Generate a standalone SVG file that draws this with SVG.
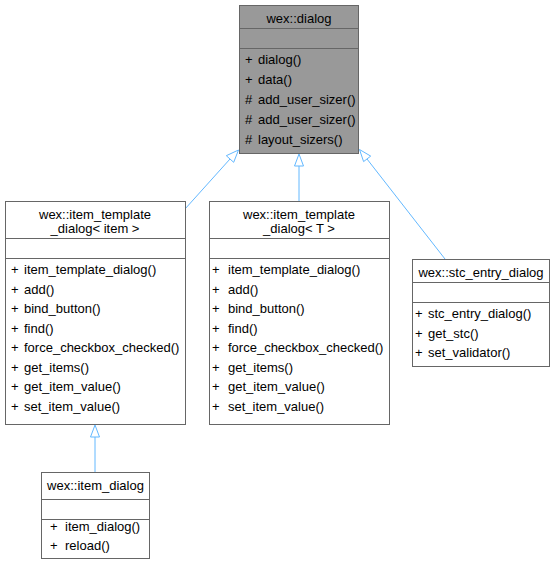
<svg xmlns="http://www.w3.org/2000/svg" width="556" height="565" viewBox="0 0 556 565">
<style>
text{font-family:"Liberation Sans",Arial,sans-serif;font-size:13px;fill:#000}
.c{text-anchor:middle}
.box{fill:#fff;stroke:#666;stroke-width:1}
.base{fill:#999;stroke:#666;stroke-width:1}
.sep{stroke:#666;stroke-width:1}
.edge{fill:none;stroke:#63b8ff;stroke-width:1}
.head{fill:#fff;stroke:#63b8ff;stroke-width:1}
</style>
<rect width="556" height="565" fill="#fff"/>
<g id="connectors">
<line class="edge" x1="185" y1="209" x2="230" y2="159"/>
<polygon class="head" points="238.5,150 233.7,162.3 226.3,155.7"/>
<line class="edge" x1="299" y1="201" x2="299" y2="166"/>
<polygon class="head" points="299,154 303.5,166 294.5,166"/>
<line class="edge" x1="445" y1="259" x2="367" y2="159"/>
<polygon class="head" points="359.5,149.5 370.7,156.1 363.6,161.6"/>
<line class="edge" x1="95" y1="472" x2="95" y2="437"/>
<polygon class="head" points="95,425 99.5,437 90.5,437"/>
</g>
<g id="node-dialog">
<rect class="base" x="239.5" y="5.5" width="119" height="148"/>
<line class="sep" x1="239.5" y1="28.5" x2="358.5" y2="28.5"/>
<line class="sep" x1="239.5" y1="48.5" x2="358.5" y2="48.5"/>
<text class="c" x="299" y="23">wex::dialog</text>
<text x="245" y="64">+</text><text x="258" y="64">dialog()</text>
<text x="245" y="84">+</text><text x="258" y="84">data()</text>
<text x="245" y="104">#</text><text x="258" y="104">add_user_sizer()</text>
<text x="245" y="124">#</text><text x="258" y="124">add_user_sizer()</text>
<text x="245" y="144">#</text><text x="258" y="144">layout_sizers()</text>
</g>
<g id="node-item-template-dialog-item">
<rect class="box" x="5.5" y="201.5" width="180" height="223"/>
<line class="sep" x1="5.5" y1="238.5" x2="185.5" y2="238.5"/>
<line class="sep" x1="5.5" y1="258.5" x2="185.5" y2="258.5"/>
<text class="c" x="95" y="219">wex::item_template</text>
<text class="c" x="95" y="233">_dialog&lt; item &gt;</text>
<text x="11" y="274">+</text><text x="24" y="274">item_template_dialog()</text>
<text x="11" y="293.5">+</text><text x="24" y="293.5">add()</text>
<text x="11" y="313">+</text><text x="24" y="313">bind_button()</text>
<text x="11" y="332.5">+</text><text x="24" y="332.5">find()</text>
<text x="11" y="352">+</text><text x="24" y="352">force_checkbox_checked()</text>
<text x="11" y="371.5">+</text><text x="24" y="371.5">get_items()</text>
<text x="11" y="391">+</text><text x="24" y="391">get_item_value()</text>
<text x="11" y="410.5">+</text><text x="24" y="410.5">set_item_value()</text>
</g>
<g id="node-item-template-dialog-T">
<rect class="box" x="209.5" y="201.5" width="180" height="223"/>
<line class="sep" x1="209.5" y1="238.5" x2="389.5" y2="238.5"/>
<line class="sep" x1="209.5" y1="258.5" x2="389.5" y2="258.5"/>
<text class="c" x="299" y="219">wex::item_template</text>
<text class="c" x="299" y="233">_dialog&lt; T &gt;</text>
<text x="212" y="274">+</text><text x="228" y="274">item_template_dialog()</text>
<text x="212" y="293.5">+</text><text x="228" y="293.5">add()</text>
<text x="212" y="313">+</text><text x="228" y="313">bind_button()</text>
<text x="212" y="332.5">+</text><text x="228" y="332.5">find()</text>
<text x="212" y="352">+</text><text x="228" y="352">force_checkbox_checked()</text>
<text x="212" y="371.5">+</text><text x="228" y="371.5">get_items()</text>
<text x="212" y="391">+</text><text x="228" y="391">get_item_value()</text>
<text x="212" y="410.5">+</text><text x="228" y="410.5">set_item_value()</text>
</g>
<g id="node-stc-entry-dialog">
<rect class="box" x="412.5" y="259.5" width="137" height="107"/>
<line class="sep" x1="412.5" y1="282.5" x2="549.5" y2="282.5"/>
<line class="sep" x1="412.5" y1="302.5" x2="549.5" y2="302.5"/>
<text class="c" x="481" y="277">wex::stc_entry_dialog</text>
<text x="415" y="318">+</text><text x="428" y="318">stc_entry_dialog()</text>
<text x="415" y="337.5">+</text><text x="428" y="337.5">get_stc()</text>
<text x="415" y="357">+</text><text x="428" y="357">set_validator()</text>
</g>
<g id="node-item-dialog">
<rect class="box" x="41.5" y="472.5" width="108" height="86"/>
<line class="sep" x1="41.5" y1="499.5" x2="149.5" y2="499.5"/>
<line class="sep" x1="41.5" y1="519.5" x2="149.5" y2="519.5"/>
<text class="c" x="95.5" y="490">wex::item_dialog</text>
<text x="50" y="531">+</text><text x="65" y="531">item_dialog()</text>
<text x="50" y="550">+</text><text x="65" y="550">reload()</text>
</g>
</svg>
